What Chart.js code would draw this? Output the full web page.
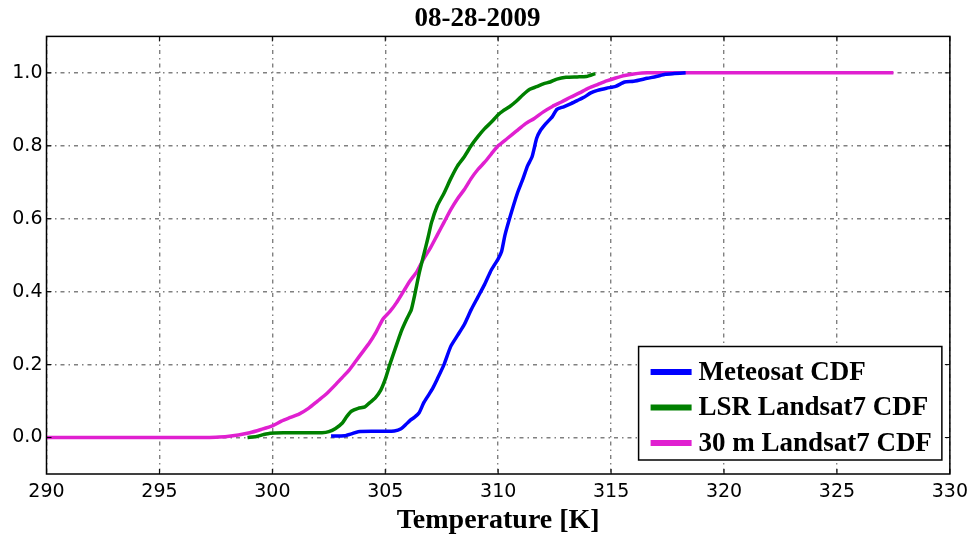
<!DOCTYPE html>
<html>
<head>
<meta charset="utf-8">
<script src="https://cdn.jsdelivr.net/npm/chart.js@4/dist/chart.umd.min.js"></script>
<style>
  html, body { margin: 0; padding: 0; background: #fff; }
  #wrap { width: 975px; height: 536px; }
</style>
</head>
<body>
<div id="wrap"><canvas id="cdf"></canvas></div>
<script>
// values (temperature K, cumulative fraction)
const meteoT = [302.6, 303.2, 303.5, 303.8, 304.5, 305.0, 305.4, 305.7, 305.9, 306.1, 306.3, 306.5, 306.7, 306.9, 307.1, 307.3, 307.6, 307.9, 308.2, 308.5, 308.8, 309.1, 309.4, 309.7, 310.0, 310.15, 310.3, 310.55, 310.85, 311.1, 311.3, 311.5, 311.7, 311.85, 312.1, 312.4, 312.6, 312.9, 313.2, 313.5, 313.8, 314.1, 314.4, 314.8, 315.2, 315.6, 316.0, 316.6, 317.0, 317.4, 317.8, 318.3];
const meteoP = [0.004, 0.005, 0.01, 0.016, 0.017, 0.017, 0.018, 0.024, 0.035, 0.047, 0.056, 0.068, 0.095, 0.115, 0.135, 0.16, 0.2, 0.25, 0.28, 0.31, 0.35, 0.385, 0.42, 0.46, 0.49, 0.51, 0.555, 0.61, 0.67, 0.71, 0.745, 0.77, 0.82, 0.84, 0.86, 0.88, 0.9, 0.907, 0.915, 0.924, 0.933, 0.945, 0.952, 0.958, 0.963, 0.975, 0.977, 0.985, 0.99, 0.996, 0.998, 1.0];

const lsrT = [298.9, 299.3, 299.6, 299.9, 300.5, 301.5, 302.2, 302.5, 302.8, 303.1, 303.3, 303.5, 303.8, 304.1, 304.3, 304.55, 304.8, 305.0, 305.2, 305.45, 305.7, 305.95, 306.15, 306.3, 306.5, 306.7, 306.9, 307.05, 307.3, 307.6, 307.9, 308.2, 308.5, 308.8, 309.1, 309.4, 309.7, 310.0, 310.2, 310.5, 310.8, 311.1, 311.4, 311.7, 312.0, 312.3, 312.6, 313.0, 313.5, 313.9, 314.3];
const lsrP = [0.0, 0.003, 0.008, 0.012, 0.013, 0.013, 0.013, 0.016, 0.025, 0.04, 0.058, 0.072, 0.08, 0.084, 0.095, 0.108, 0.13, 0.16, 0.2, 0.245, 0.29, 0.325, 0.35, 0.39, 0.45, 0.5, 0.55, 0.59, 0.635, 0.67, 0.71, 0.745, 0.77, 0.8, 0.825, 0.847, 0.865, 0.885, 0.895, 0.907, 0.922, 0.94, 0.955, 0.962, 0.97, 0.975, 0.983, 0.988, 0.989, 0.99, 0.998];

const fineT = [290, 297.0, 297.5, 298.0, 298.5, 299.0, 299.5, 300.0, 300.4, 300.8, 301.2, 301.6, 302.0, 302.4, 302.8, 303.1, 303.4, 303.7, 304.0, 304.3, 304.6, 304.9, 305.2, 305.5, 305.8, 306.1, 306.4, 306.7, 307.0, 307.3, 307.6, 307.9, 308.2, 308.5, 308.8, 309.1, 309.4, 309.7, 310.0, 310.4, 310.8, 311.2, 311.6, 312.0, 312.4, 312.8, 313.2, 313.6, 314.0, 314.4, 314.8, 315.2, 315.6, 316.0, 316.6, 327.5];
const fineP = [0, 0, 0.001, 0.003, 0.007, 0.013, 0.022, 0.032, 0.045, 0.055, 0.065, 0.08, 0.1, 0.12, 0.145, 0.165, 0.185, 0.21, 0.235, 0.26, 0.29, 0.325, 0.345, 0.37, 0.4, 0.43, 0.455, 0.49, 0.52, 0.555, 0.59, 0.625, 0.655, 0.68, 0.71, 0.735, 0.755, 0.778, 0.8, 0.82, 0.84, 0.86, 0.875, 0.893, 0.908, 0.92, 0.933, 0.945, 0.958, 0.968, 0.978, 0.986, 0.993, 0.997, 1.0, 1.0];

const seriesNames = ['Meteosat CDF', 'LSR Landsat7 CDF', '30 m Landsat7 CDF'];
const yTicks = [0.0, 0.2, 0.4, 0.6, 0.8, 1.0];

const pts = (xs, ys) => xs.map((x, i) => ({ x, y: ys[i] }));
const serif = "'Liberation Serif', 'DejaVu Serif', serif";
const sans = "'DejaVu Sans', sans-serif";

// frame with inward ticks around plot area + legend box in lower right
const framePlugin = {
  id: 'frame',
  afterDraw(chart) {
    const { ctx, chartArea: a, scales } = chart;
    ctx.save();
    ctx.strokeStyle = '#000';
    ctx.lineWidth = 1.5;
    ctx.strokeRect(a.left, a.top, a.right - a.left, a.bottom - a.top);
    ctx.lineWidth = 1;
    ctx.beginPath();
    scales.x.ticks.forEach(t => {
      const px = scales.x.getPixelForValue(t.value);
      ctx.moveTo(px, a.bottom); ctx.lineTo(px, a.bottom - 5);
      ctx.moveTo(px, a.top); ctx.lineTo(px, a.top + 5);
    });
    scales.y.ticks.forEach(t => {
      const py = scales.y.getPixelForValue(t.value);
      ctx.moveTo(a.left, py); ctx.lineTo(a.left + 5, py);
      ctx.moveTo(a.right, py); ctx.lineTo(a.right - 5, py);
    });
    ctx.stroke();

    ctx.lineWidth = 1.5;
    ctx.font = "bold 27px " + serif;
    const ds = chart.data.datasets;
    const textW = Math.max(...ds.map(d => ctx.measureText(d.label).width));
    const rowH = 35.5, lineLen = 41;
    const boxW = 12 + lineLen + 7 + textW + 10;
    const boxH = rowH * ds.length + 7;
    const bx = a.right - 8 - boxW, by = a.bottom - 14 - boxH;
    ctx.fillStyle = '#fff';
    ctx.fillRect(bx, by, boxW, boxH);
    ctx.strokeRect(bx, by, boxW, boxH);
    ds.forEach((d, i) => {
      const cy = by + 25.5 + i * rowH;
      ctx.strokeStyle = d.borderColor;
      ctx.lineWidth = 6;
      ctx.beginPath();
      ctx.moveTo(bx + 12, cy);
      ctx.lineTo(bx + 12 + lineLen, cy);
      ctx.stroke();
      ctx.fillStyle = '#000';
      ctx.textBaseline = 'middle';
      ctx.fillText(d.label, bx + 12 + lineLen + 7, cy + 1);
    });
    ctx.restore();
  }
};

const gridStyle = { color: '#808080', lineWidth: 1.4, drawTicks: false };
const borderStyle = { display: false, dash: [4, 4, 1.5, 4] };

new Chart(document.getElementById('cdf'), {
  type: 'line',
  data: {
    datasets: [
      { label: seriesNames[0], data: pts(meteoT, meteoP), borderColor: '#0000ff', backgroundColor: '#0000ff' },
      { label: seriesNames[1], data: pts(lsrT, lsrP), borderColor: '#008000', backgroundColor: '#008000' },
      { label: seriesNames[2], data: pts(fineT, fineP), borderColor: '#e020d0', backgroundColor: '#e020d0' }
    ].map(d => ({ ...d, borderWidth: 3.5, pointRadius: 0, tension: 0.2, fill: false }))
  },
  options: {
    responsive: true,
    maintainAspectRatio: false,
    animation: false,
    layout: { padding: { left: 0, right: 20, top: 0, bottom: 0 } },
    plugins: {
      legend: { display: false },
      tooltip: { enabled: false },
      title: {
        display: true,
        text: '08-28-2009',
        color: '#000',
        font: { family: serif, size: 27, weight: 'bold' },
        padding: { top: 3, bottom: 1 }
      }
    },
    scales: {
      x: {
        type: 'linear',
        min: 290, max: 330,
        grid: gridStyle,
        border: borderStyle,
        ticks: { stepSize: 5, color: '#000', padding: 7, font: { family: sans, size: 19 }, maxRotation: 0 },
        title: {
          display: true,
          text: 'Temperature [K]',
          color: '#000',
          font: { family: serif, size: 28, weight: 'bold' },
          padding: { top: 0, bottom: -2 }
        },
        afterFit: s => { s.height = 62; }
      },
      y: {
        min: -0.1, max: 1.1,
        grid: gridStyle,
        border: borderStyle,
        afterBuildTicks: s => { s.ticks = yTicks.map(v => ({ value: v })); },
        ticks: { color: '#000', padding: 4, font: { family: sans, size: 19 }, callback: v => v.toFixed(1) },
        afterFit: s => { s.width = 46.5; }
      }
    }
  },
  plugins: [framePlugin]
});
</script>
</body>
</html>
